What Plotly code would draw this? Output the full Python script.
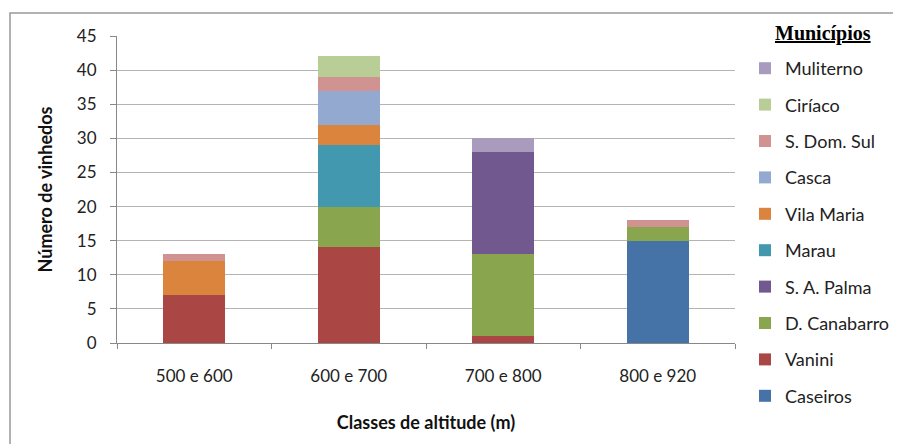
import plotly.graph_objects as go

categories = ["500 e 600", "600 e 700", "700 e 800", "800 e 920"]

# series in stacking order (bottom to top)
series_names = ["Caseiros", "Vanini", "D. Canabarro", "S. A. Palma", "Marau",
                "Vila Maria", "Casca", "S. Dom. Sul", "Ciríaco", "Muliterno"]
caseiros = [0, 0, 0, 15]
vanini = [7, 14, 1, 0]
d_canabarro = [0, 6, 12, 2]
s_a_palma = [0, 0, 15, 0]
marau = [0, 9, 0, 0]
vila_maria = [5, 3, 0, 0]
casca = [0, 5, 0, 0]
s_dom_sul = [1, 2, 0, 1]
ciriaco = [0, 3, 0, 0]
muliterno = [0, 0, 2, 0]
series_values = [caseiros, vanini, d_canabarro, s_a_palma, marau,
                 vila_maria, casca, s_dom_sul, ciriaco, muliterno]
colors = ["#4572A7", "#AA4643", "#89A54E", "#71588F", "#4198AF",
          "#DB843D", "#93A9CF", "#D19392", "#B9CD96", "#A99BBD"]

y_ticks = [0, 5, 10, 15, 20, 25, 30, 35, 40, 45]
legend_title = "Municípios"

FONT = "Lato, 'Open Sans', sans-serif"

# page body has an 8px margin, so the figure is laid out in page coords - 8
W, H = 893, 436
L, T = 109, 28
PW, PH = 618, 307

fig = go.Figure()
for i, (name, vals, col) in enumerate(zip(series_names, series_values, colors)):
    fig.add_trace(go.Bar(
        x=categories, y=vals, name=name, legendgroup=name,
        legendrank=1000 - i,
        marker=dict(color=col, line=dict(width=0)),
    ))

fig.update_layout(
    barmode="stack",
    bargap=0.6,
    width=W, height=H,
    margin=dict(l=L, r=W - L - PW, t=T, b=H - T - PH, autoexpand=False),
    paper_bgcolor="white", plot_bgcolor="white",
    font=dict(family=FONT, size=17, color="#222"),
    showlegend=True,
    legend=dict(
        traceorder="grouped",
        tracegroupgap=10,
        x=(737 - L) / PW, xanchor="left",
        y=1 - 42 / H, yanchor="top",
        yref="container",
        maxheight=425,
        font=dict(family=FONT, size=18, color="#222"),
        bgcolor="rgba(0,0,0,0)",
    ),
    annotations=[dict(
        text="<u><b>" + legend_title + "</b></u>", showarrow=False,
        xref="paper", yref="paper",
        x=(823 - 8 - L) / PW, y=1 + 3 / PH, xanchor="center", yanchor="middle",
        font=dict(family="Liberation Serif, serif", size=20, color="#000"),
    )],
    xaxis=dict(
        type="category",
        showline=True, linecolor="#888", linewidth=1,
        ticks="outside", ticklen=5, tickcolor="#888", tickson="boundaries",
        ticklabelstandoff=18,
        tickfont=dict(family=FONT, size=17, color="#222"),
        title=dict(text="<b>Classes de altitude (m)</b>", standoff=30,
                   font=dict(family=FONT, size=18, color="#111")),
        showgrid=False,
    ),
    yaxis=dict(
        range=[0, 45], tickvals=y_ticks,
        showline=True, linecolor="#888", linewidth=1,
        ticks="outside", ticklen=6, tickcolor="#888",
        ticklabelstandoff=10,
        showgrid=True, gridcolor="#b4b4b4", gridwidth=1,
        zeroline=False,
        tickfont=dict(family=FONT, size=17, color="#222"),
        title=dict(text="<b>Número de vinhedos</b>", standoff=19,
                   font=dict(family=FONT, size=18, color="#111")),
    ),
    shapes=[dict(type="rect", xref="paper", yref="paper",
                 x0=(10 - 8 - L) / PW, x1=(910 - 8 - L) / PW,
                 y0=-(460 - 8 - T - PH) / PH, y1=1 + (T - 5) / PH,
                 line=dict(color="#999", width=1.5), layer="below")],
)

fig.write_html("out.html")
